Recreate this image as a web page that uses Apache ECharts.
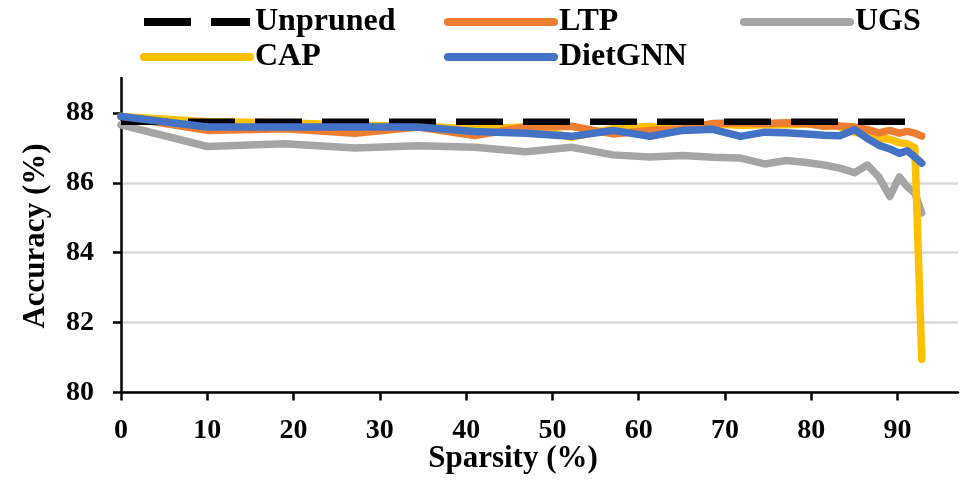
<!DOCTYPE html>
<html><head><meta charset="utf-8">
<script src="https://cdn.jsdelivr.net/npm/echarts@6/dist/echarts.min.js"></script>
<style>html,body{margin:0;padding:0;background:#fff}#c{width:965px;height:482px}</style>
</head><body><div id="c"></div>
<script>
// ---- data ----
const sparsity = [0,10,19,27.1,34.4,41,46.9,52.2,57,61.3,65.1,68.6,71.8,74.6,77.1,79.4,81.5,83.3,85,86.5,87.8,89.1,90.2,91.1,92,92.8];
const unprunedX = [0, 93];
const unprunedY = [87.75, 87.75];
const ltp     = [87.9,87.5,87.55,87.42,87.6,87.35,87.6,87.62,87.4,87.5,87.55,87.7,87.72,87.7,87.72,87.7,87.62,87.63,87.6,87.53,87.43,87.5,87.42,87.47,87.42,87.34];
const ugs     = [87.66,87.04,87.12,87.0,87.06,87.02,86.89,87.02,86.8,86.74,86.78,86.73,86.71,86.54,86.64,86.58,86.51,86.42,86.29,86.51,86.18,85.61,86.17,85.89,85.71,85.14];
const cap     = [87.9,87.75,87.72,87.65,87.62,87.55,87.6,87.3,87.55,87.62,87.5,87.68,87.65,87.66,87.66,87.68,87.72,87.6,87.45,87.35,87.28,87.25,87.15,87.12,87.0,80.95];
const dietgnn = [87.9,87.6,87.6,87.6,87.6,87.47,87.42,87.33,87.5,87.33,87.5,87.53,87.33,87.45,87.43,87.4,87.36,87.35,87.52,87.27,87.08,86.97,86.84,86.92,86.74,86.56];
const xTicks = [0,10,20,30,40,50,60,70,80,90];
const yTicks = [80,82,84,86,88];
const names = ['Unpruned','LTP','UGS','CAP','DietGNN'];
const colors = ['#000000','#ED7D31','#A5A5A5','#FFC000','#4472C4'];

const pairs = (xs, ys) => xs.map((x, i) => [x, ys[i]]);
const FONT = 'Liberation Serif';

const chart = echarts.init(document.getElementById('c'), null, {renderer: 'canvas'});
const legendCommon = {
  itemWidth: 106, itemHeight: 14, itemGap: 9, padding: 0,
  lineStyle: {width: 8},
  itemStyle: {opacity: 0},
  textStyle: {fontFamily: FONT, fontWeight: 'bold', fontSize: 32, color: '#000', width: 180, lineHeight: 34},
  selectedMode: false
};
const mk = (name, data, z, extra) => Object.assign({
  name, type: 'line', data, symbol: 'none', z, animation: false,
  lineStyle: {width: 7.5, color: colors[names.indexOf(name)], cap: 'round', join: 'round'},
  itemStyle: {color: colors[names.indexOf(name)]}
}, extra || {});

chart.setOption({
  animation: false,
  grid: {left: 121, top: 78, width: 837, height: 314.5, containLabel: false},
  legend: [
    Object.assign({}, legendCommon, {left: 140, top: 5, data: ['Unpruned','LTP']}),
    Object.assign({}, legendCommon, {left: 740, top: 5, data: ['UGS']}),
    Object.assign({}, legendCommon, {left: 140, top: 40, data: ['CAP','DietGNN']})
  ],
  xAxis: {
    type: 'value', min: 0, max: 97, interval: 10,
    axisLine: {show: true, lineStyle: {color: '#000', width: 2.5}},
    axisTick: {show: true, length: 8, inside: false, customValues: xTicks, lineStyle: {color: '#000', width: 2.5}},
    axisLabel: {customValues: xTicks, margin: 24, fontFamily: FONT, fontWeight: 'bold', fontSize: 28, color: '#000'},
    splitLine: {show: false}
  },
  yAxis: {
    type: 'value', min: 80, max: 89, interval: 2,
    axisLine: {show: true, lineStyle: {color: '#000', width: 2.5}},
    axisTick: {show: true, length: 8, inside: false, customValues: yTicks, lineStyle: {color: '#000', width: 2.5}},
    axisLabel: {customValues: yTicks, margin: 27, fontFamily: FONT, fontWeight: 'bold', fontSize: 28, color: '#000'},
    splitLine: {show: true, showMaxLine: false, lineStyle: {color: '#D9D9D9', width: 2.5}}
  },
  graphic: [
    {type: 'text', x: 36, y: 236, rotation: Math.PI / 2,
     style: {text: 'Accuracy (%)', textAlign: 'center', textVerticalAlign: 'middle', font: 'bold 31px "Liberation Serif"', fill: '#000'}},
    {type: 'text', x: 513, y: 459,
     style: {text: 'Sparsity (%)', textAlign: 'center', textVerticalAlign: 'middle', font: 'bold 31px "Liberation Serif"', fill: '#000'}}
  ],
  series: [
    mk('Unpruned', pairs(unprunedX, unprunedY), 4, {lineStyle: {width: 6.5, color: '#000', type: [47, 20], cap: 'butt'}}),
    mk('LTP', pairs(sparsity, ltp), 3),
    mk('UGS', pairs(sparsity, ugs), 1),
    mk('CAP', pairs(sparsity, cap), 2),
    mk('DietGNN', pairs(sparsity, dietgnn), 5)
  ]
});
</script></body></html>
